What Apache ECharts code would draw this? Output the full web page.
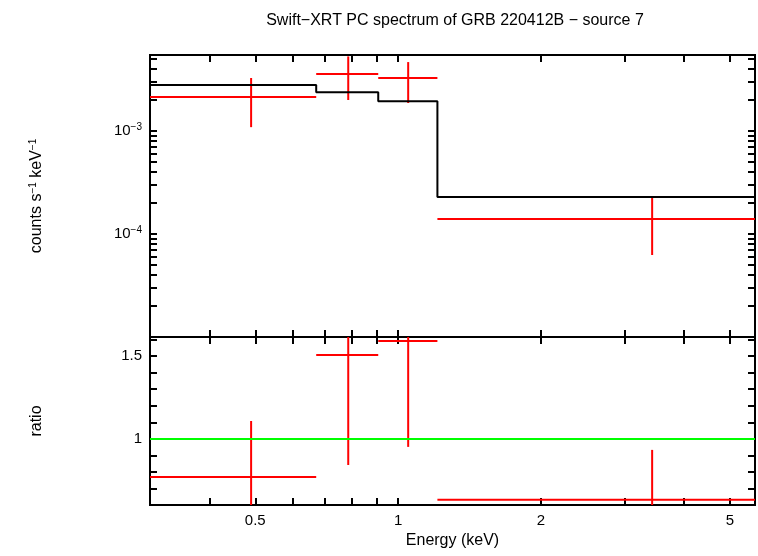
<!DOCTYPE html>
<html><head><meta charset="utf-8">
<script src="https://cdn.jsdelivr.net/npm/echarts@6/dist/echarts.min.js"></script>
<style>body{margin:0;background:#fff}#main{width:758px;height:556px}</style>
</head><body><div id="main"></div>
<script>
// spectrum points: energy centre, bin low/high, rate, error low/high
var eCen = [0.49, 0.785, 1.05, 3.43];
var eLo = [0.3, 0.672, 0.908, 1.21];
var eHi = [0.672, 0.908, 1.21, 5.65];
var rate = [2.14e-3, 3.57e-3, 3.27e-3, 1.40e-4];
var rateLo = [1.09e-3, 2.0e-3, 1.87e-3, 6.25e-5];
var rateHi = [3.27e-3, 5.3e-3, 4.67e-3, 2.29e-4];
// model steps (bin left edges)
var modelE = [0.3, 0.672, 0.908, 1.21, 5.65];
var modelV = [2.8e-3, 2.38e-3, 1.95e-3, 2.29e-4, 2.29e-4];
// ratio
var ratio = [0.771, 1.506, 1.59, 0.633];
var ratioLo = [0.55, 0.843, 0.952, 0.45];
var ratioHi = [1.108, 1.75, 1.75, 0.934];

var L = Math.log10;
var xTicks = [0.3,0.4,0.5,0.6,0.7,0.8,0.9,1,2,3,4,5].map(L);
var xLabels = [0.5,1,2,5].map(L);
var yTicks = [];
for (var d = -5; d <= -3; d++) for (var m = 1; m <= 9; m++) if (d + L(m) < -2.26) yTicks.push(d + L(m));

function errItem(params, api) {
  var a = api.coord([api.value(1), api.value(3)]);
  var b = api.coord([api.value(2), api.value(3)]);
  var lo = api.coord([api.value(0), api.value(4)]);
  var hi = api.coord([api.value(0), api.value(5)]);
  var st = {stroke: '#ff0000', lineWidth: 2};
  return {type: 'group', children: [
    {type: 'line', shape: {x1: a[0], y1: a[1], x2: b[0], y2: b[1]}, style: st},
    {type: 'line', shape: {x1: lo[0], y1: lo[1], x2: hi[0], y2: hi[1]}, style: st}
  ]};
}
var topData = eCen.map(function (e, i) { return [L(e), L(eLo[i]), L(eHi[i]), L(rate[i]), L(rateLo[i]), L(rateHi[i])]; });
var botData = eCen.map(function (e, i) { return [L(e), L(eLo[i]), L(eHi[i]), ratio[i], ratioLo[i], ratioHi[i]]; });

var font = 'Liberation Sans';
var tickStyle = {color: '#000', width: 2};
function xAx(g, pos, labels, name) {
  return {type: 'value', gridIndex: g, position: pos, min: L(0.3), max: L(5.65),
    axisLine: {show: false, onZero: false}, splitLine: {show: false},
    axisTick: {inside: true, length: 7, lineStyle: tickStyle, customValues: xTicks},
    axisLabel: {show: labels, customValues: xLabels, color: '#000', fontSize: 15, fontFamily: font,
      formatter: function (v) { return String(Math.round(Math.pow(10, v) * 10) / 10); }},
    name: name || '', nameLocation: 'middle', nameGap: 28,
    nameTextStyle: {color: '#000', fontSize: 16, fontFamily: font}};
}
var sup = {s: {fontSize: 10, verticalAlign: 'top', padding: [0, 0, 8, 0], color: '#000', fontFamily: font}};
function yTop(pos, labels) {
  return {type: 'value', gridIndex: 0, position: pos, min: -5, max: L(5.47e-3),
    axisLine: {show: false, onZero: false}, splitLine: {show: false},
    axisTick: {inside: true, length: 7, lineStyle: tickStyle, customValues: yTicks},
    axisLabel: {show: labels, customValues: [-4, -3], color: '#000', fontSize: 15, fontFamily: font, rich: sup,
      formatter: function (v) { return '10{s|\u2212' + Math.round(-v) + '}'; }}};
}
function yBot(pos, labels) {
  return {type: 'value', gridIndex: 1, position: pos, min: 0.602, max: 1.614,
    axisLine: {show: false, onZero: false}, splitLine: {show: false},
    axisTick: {inside: true, length: 7, lineStyle: tickStyle,
      customValues: [0.7,0.8,0.9,1,1.1,1.2,1.3,1.4,1.5,1.6]},
    axisLabel: {show: labels, customValues: [1, 1.5], color: '#000', fontSize: 15, fontFamily: font}};
}

var chart = echarts.init(document.getElementById('main'));
chart.setOption({
  animation: false,
  backgroundColor: '#fff',
  title: {text: 'Swift\u2212XRT PC spectrum of GRB 220412B \u2212 source 7', left: 450, top: 8, textAlign: 'center',
    textStyle: {color: '#000', fontSize: 16, fontWeight: 'normal', fontFamily: font}},
  graphic: [
    {type: 'text', x: 37, y: 196, rotation: Math.PI / 2, style: {text: 'counts s{s|\u22121} keV{s|\u22121}', textAlign: 'center', textVerticalAlign: 'middle', fontSize: 16, fontFamily: font, fill: '#000', rich: sup}},
    {type: 'text', x: 37, y: 421, rotation: Math.PI / 2, style: {text: 'ratio', textAlign: 'center', textVerticalAlign: 'middle', fontSize: 16, fontFamily: font, fill: '#000'}}
  ],
  grid: [
    {left: 150, right: 3, top: 55, height: 282, show: true, borderColor: '#000', borderWidth: 2, backgroundColor: 'transparent'},
    {left: 150, right: 3, top: 337, height: 168, show: true, borderColor: '#000', borderWidth: 2, backgroundColor: 'transparent'}
  ],
  xAxis: [xAx(0, 'bottom', false), xAx(0, 'top', false), xAx(1, 'bottom', true, 'Energy (keV)'), xAx(1, 'top', false)],
  yAxis: [yTop('left', true), yTop('right', false), yBot('left', true), yBot('right', false)],
  series: [
    {type: 'line', xAxisIndex: 0, yAxisIndex: 0, step: 'end', symbol: 'none',
      lineStyle: {color: '#000', width: 2},
      data: modelE.map(function (e, i) { return [L(e), L(modelV[i])]; })},
    {type: 'custom', xAxisIndex: 0, yAxisIndex: 0, clip: true, renderItem: errItem, data: topData},
    {type: 'line', xAxisIndex: 2, yAxisIndex: 2, symbol: 'none', lineStyle: {color: '#00ff00', width: 2},
      data: [[L(0.3), 1], [L(5.65), 1]]},
    {type: 'custom', xAxisIndex: 2, yAxisIndex: 2, clip: true, renderItem: errItem, data: botData}
  ]
});
</script></body></html>
